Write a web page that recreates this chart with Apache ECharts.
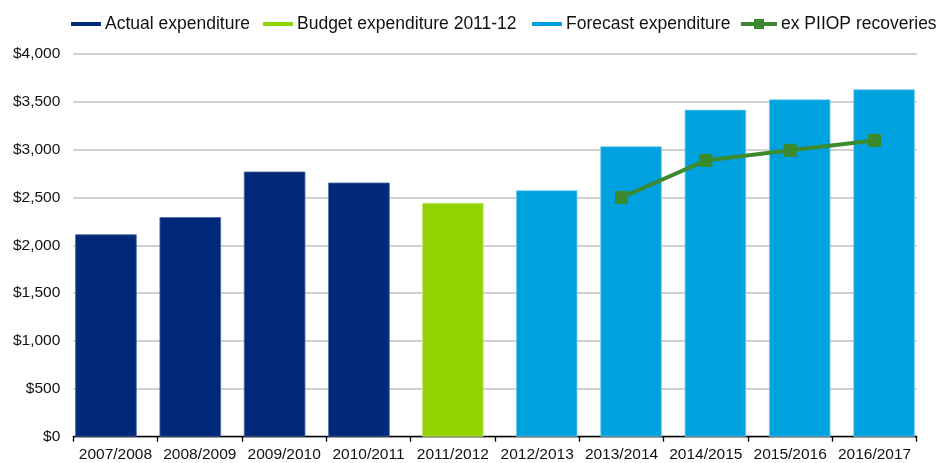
<!DOCTYPE html>
<html>
<head>
<meta charset="utf-8">
<script src="https://cdn.jsdelivr.net/npm/echarts@6/dist/echarts.min.js"></script>
<style>
  html, body { margin: 0; padding: 0; background: #ffffff; }
  #chart { width: 938px; height: 463px; }
</style>
</head>
<body>
<div id="chart"></div>
<script>
// Financial years shown on the category axis
const years = ['2007/2008', '2008/2009', '2009/2010', '2010/2011', '2011/2012',
               '2012/2013', '2013/2014', '2014/2015', '2015/2016', '2016/2017'];

// Expenditure ($m) by type
const actualExpenditure   = [2115, 2295, 2771, 2656, null, null, null, null, null, null];
const budgetExpenditure   = [null, null, null, null, 2444, null, null, null, null, null];
const forecastExpenditure = [null, null, null, null, null, 2576, 3035, 3418, 3526, 3631];
const exPiiopRecoveries   = [null, null, null, null, null, null, 2500, 2888, 2993, 3097];

// Value axis ticks
const yMin = 0, yMax = 4000, yStep = 500;

const FONT = '"Liberation Sans", Arial, sans-serif';
const NAVY = '#00297a', LIME = '#92d400', SKY = '#00a1df', GREEN = '#3c8a2e';

const barIcon = 'path://M0,0 L30,0 L30,4 L0,4 Z';
const lineIcon = 'path://M0,3 L13,3 L13,0 L23,0 L23,3 L36,3 L36,7 L23,7 L23,10 L13,10 L13,7 L0,7 Z';

function legendFor(name, icon, left, w, h) {
  return {
    left: left, top: 15, padding: 0,
    itemWidth: w, itemHeight: h, itemGap: 0,
    itemStyle: { borderWidth: 0 },
    textStyle: { fontFamily: FONT, fontSize: 17.5, color: '#111', padding: [0, 0, 0, -1] },
    data: [{ name: name, icon: icon }]
  };
}

const chart = echarts.init(document.getElementById('chart'), null, { renderer: 'canvas' });
chart.setOption({
  animation: false,
  backgroundColor: '#ffffff',
  legend: [
    legendFor('Actual expenditure', barIcon, 71, 30, 4),
    legendFor('Budget expenditure 2011-12', barIcon, 263, 30, 4),
    legendFor('Forecast expenditure', barIcon, 532, 30, 4),
    legendFor('ex PIIOP recoveries', lineIcon, 741, 36, 10)
  ],
  grid: { left: 73.3, right: 21.3, top: 54, bottom: 26.3, containLabel: false },
  xAxis: {
    type: 'category',
    data: years,
    boundaryGap: true,
    axisLine: { show: true, lineStyle: { color: '#000', width: 1.3 } },
    axisTick: { show: true, length: 5, lineStyle: { color: '#000', width: 1.3 } },
    axisLabel: { fontFamily: FONT, fontSize: 15.5, color: '#111', margin: 10, interval: 0 }
  },
  yAxis: {
    type: 'value',
    min: yMin, max: yMax, interval: yStep,
    axisLine: { show: false },
    axisTick: { show: false },
    splitLine: { show: true, lineStyle: { color: '#c0c0c0', width: 1.5 } },
    axisLabel: {
      fontFamily: FONT, fontSize: 15.5, color: '#111', margin: 13,
      formatter: v => '$' + v.toLocaleString('en-US')
    }
  },
  series: [
    {
      name: 'Actual expenditure', type: 'bar', data: actualExpenditure,
      barWidth: 61.5, barGap: '-84.5%',
      itemStyle: { color: NAVY, borderColor: '#4a66a3', borderWidth: 0.8 }
    },
    {
      name: 'Budget expenditure 2011-12', type: 'bar', data: budgetExpenditure,
      barWidth: 61.5, barGap: '-84.5%',
      itemStyle: { color: LIME, borderColor: '#c6ea80', borderWidth: 0.8 }
    },
    {
      name: 'Forecast expenditure', type: 'bar', data: forecastExpenditure,
      barWidth: 61.5, barGap: '-84.5%',
      itemStyle: { color: SKY, borderColor: '#80d0ef', borderWidth: 0.8 }
    },
    {
      name: 'ex PIIOP recoveries', type: 'line', data: exPiiopRecoveries,
      symbol: 'rect', symbolSize: 13,
      lineStyle: { color: GREEN, width: 4 },
      itemStyle: { color: GREEN },
      z: 5
    }
  ]
});
</script>
</body>
</html>
